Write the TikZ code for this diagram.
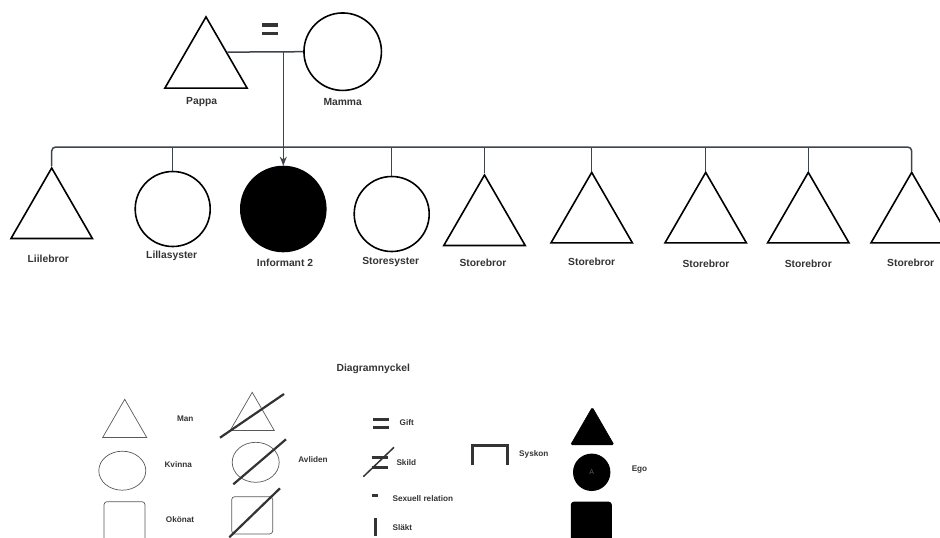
\documentclass[tikz,border=0pt]{standalone}
\usepackage{fontspec}
\setmainfont{Liberation Sans}
\usepackage{xcolor}
\usepackage{tikz}
\usetikzlibrary{arrows.meta}
\usetikzlibrary{shapes.geometric}
\usetikzlibrary{calc}
\definecolor{linjegra}{RGB}{62,68,78}
\definecolor{textgra}{RGB}{52,52,52}

\begin{document}
\begin{tikzpicture}[x=1pt,y=-1pt,
    man/.style={regular polygon, regular polygon sides=3, draw=black, line width=1.6pt, inner sep=0pt, minimum size=94pt},
    kvinna/.style={circle, draw=black, line width=1.6pt, inner sep=0pt},
    namn/.style={font=\bfseries\fontsize{10.3}{12}\selectfont, text=textgra},
    slakt/.style={draw=linjegra, line width=1.5pt},
    nyckel/.style={draw=black!65, line width=0.7pt, inner sep=0pt},
    nyckeltext/.style={font=\bfseries\fontsize{8.2}{10}\selectfont, text=textgra},
    tjock/.style={line width=3pt, draw=textgra},
    streck/.style={line width=2.2pt, draw=black!80}]
    \useasboundingbox (0,0) rectangle (940,538);

    % Föräldrar
    \node[man, minimum size=95pt] (pappa) at (206,64.4) {};
    \node[kvinna, minimum size=77.5pt] (mamma) at (342.7,51.7) {};
    \node[namn] (pappanamn) at (201.7,102.3) {Pappa};
    \node[namn] (mammanamn) at (342.7,102.3) {Mamma};
    \draw[tjock, line width=3.4pt] (262.3,25) -- (277.7,25) (262.3,33.3) -- (277.7,33.3); % gift

    % Barnen
    \node[man] (liilebror) at (51.7,215) {};
    \node[kvinna, minimum size=75pt] (lillasyster) at (172.7,209) {};
    \node[kvinna, fill=black, minimum size=85pt] (ego) at (283.3,209) {};
    \node[kvinna, minimum size=75pt] (storesyster) at (391.7,214) {};
    \node[man] (bror1) at (484.5,222) {};
    \foreach \x [count=\i from 2] in {591.7,705.7,808.3,911.7}
        \node[man] (bror\i) at (\x,219.4) {};

    % Namn under barnen
    \node[namn] (liilebrornamn) at (48.3,259.3) {Liilebror};
    \node[namn] (lillasysternamn) at (171.7,256) {Lillasyster};
    \node[namn] (egonamn) at (285,263.3) {Informant 2};
    \node[namn] (storesysternamn) at (390.7,261.7) {Storesyster};
    \node[namn] (bror1namn) at (483,263.3) {Storebror};
    \node[namn] (bror2namn) at (591.7,261.7) {Storebror};
    \node[namn] (bror3namn) at (706,264.3) {Storebror};
    \node[namn] (bror4namn) at (808.3,264.3) {Storebror};
    \node[namn] (bror5namn) at (910.7,263.3) {Storebror};

    % Linjer
    \coordinate (pappakant) at ($(pappa.corner 1)!0.5!(pappa.corner 3)$);
    \coordinate (syskonlinje) at (0,147);
    \draw[slakt] (pappakant) -- (mamma.west);
    \draw[slakt, -{Stealth[length=9pt, width=7pt]}] (ego.north |- pappakant) -- (ego.north);
    \draw[slakt, rounded corners=4pt] (liilebror.corner 1) -- (liilebror.corner 1 |- syskonlinje)
        -- (bror5.corner 1 |- syskonlinje) -- (bror5.corner 1);
    \foreach \barn in {lillasyster.north, storesyster.north, bror1.corner 1, bror2.corner 1, bror3.corner 1, bror4.corner 1}
        \draw[slakt] (\barn |- syskonlinje) -- (\barn);

    % Diagramnyckel
    \node[namn] (rubrik) at (373.3,369.3) {Diagramnyckel};

    % Man, Kvinna, Okönat
    \node[man, nyckel, minimum size=50.8pt] (nman) at (124.7,424.7) {};
    \node[ellipse, nyckel, minimum width=47pt, minimum height=39pt] (nkvinna) at (122.3,470.7) {};
    \node[rectangle, nyckel, rounded corners=3pt, minimum width=41pt, minimum height=41pt] (nokonat) at (124.5,522.2) {};
    \node[nyckeltext] (mantext) at (185.3,419) {Man};
    \node[nyckeltext] (kvinnatext) at (178.2,464.3) {Kvinna};
    \node[nyckeltext] (okonattext) at (180,519.3) {Okönat};

    % Avliden
    \node[man, nyckel, minimum size=50.8pt] (dman) at (252.2,417.7) {};
    \node[ellipse, nyckel, minimum width=47pt, minimum height=40pt] (dkvinna) at (255.7,462.3) {};
    \node[rectangle, nyckel, rounded corners=3pt, minimum width=41pt, minimum height=37.3pt] (dokonat) at (252.2,515.3) {};
    \draw[streck] (220,437.7) -- (284,394);
    \draw[streck] (233.3,484.3) -- (286,439.3);
    \draw[streck] (229.3,537.3) -- (280,488.3);
    \node[nyckeltext] (avlidentext) at (313,460) {Avliden};

    % Relationer
    \draw[tjock] (373.3,419) -- (389,419) (373.3,427.7) -- (389,427.7); % gift
    \draw[tjock] (371.7,457.7) -- (388.3,457.7) (371.7,467.3) -- (388.3,467.3); % skild
    \draw[textgra, line width=1.5pt] (363.3,476.7) -- (394,447.3);
    \draw[tjock] (371.7,495.7) -- (378.3,495.7); % sexuell relation
    \draw[tjock] (375,518.3) -- (375,535.7); % släkt
    \draw[tjock] (472.7,465) -- (472.7,445.7) -- (507.7,445.7) -- (507.7,465); % syskon
    \node[nyckeltext] (gifttext) at (406.7,422.3) {Gift};
    \node[nyckeltext] (skildtext) at (406.3,462.7) {Skild};
    \node[nyckeltext, anchor=west] (sextext) at (389,499) {Sexuell relation};
    \node[nyckeltext, anchor=west] (slakttext) at (389,527.3) {Släkt};
    \node[nyckeltext] (syskontext) at (533.8,454.3) {Syskon};

    % Ego
    \node[man, draw=black, fill=black, line width=0.6pt, rounded corners=1.5pt, minimum size=50pt] (eman) at (592.3,432.3) {};
    \node[circle, fill=black, inner sep=0pt, minimum size=37.4pt, text=black!62, font=\fontsize{7}{8}\selectfont] (ekvinna) at (591.7,472.3) {A};
    \node[rectangle, fill=black, rounded corners=3pt, minimum width=41pt, minimum height=41pt] (eokonat) at (591.3,522.2) {};
    \node[nyckeltext] (egotext) at (639.5,470) {Ego};
\end{tikzpicture}
\end{document}
